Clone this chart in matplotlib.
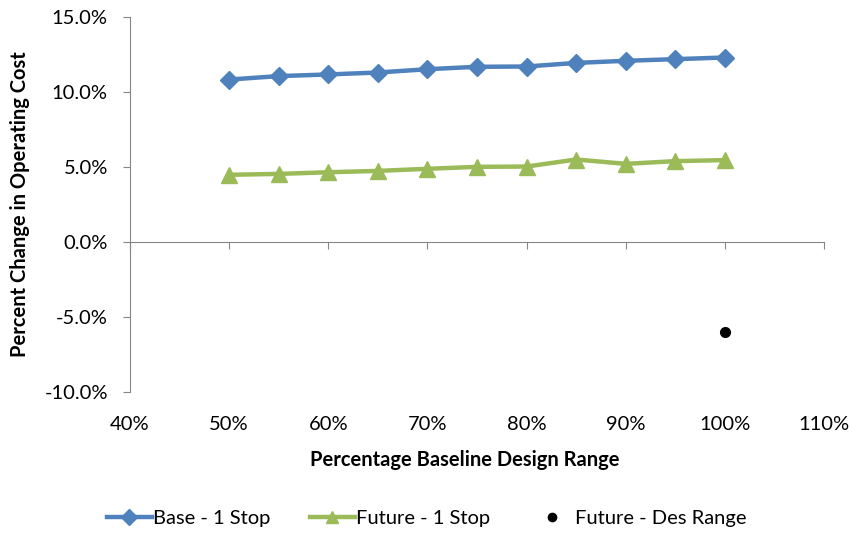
import matplotlib
matplotlib.use('Agg')
import matplotlib.pyplot as plt
from matplotlib.ticker import FuncFormatter

plt.rcParams['font.family'] = ['Lato', 'DejaVu Sans']

# data
range_pct = [0.50, 0.55, 0.60, 0.65, 0.70, 0.75, 0.80, 0.85, 0.90, 0.95, 1.00]
base_1stop = [10.83, 11.06, 11.17, 11.30, 11.52, 11.68, 11.70, 11.94, 12.08, 12.19, 12.30]
future_1stop = [4.48, 4.54, 4.65, 4.74, 4.88, 5.01, 5.03, 5.50, 5.21, 5.39, 5.46]
des_range_x = [1.00]
des_range_y = [-6.0]

x_ticks = [0.4, 0.5, 0.6, 0.7, 0.8, 0.9, 1.0, 1.1]
y_ticks = [-10, -5, 0, 5, 10, 15]

fig = plt.figure(figsize=(8.54, 5.33), dpi=100)
ax = fig.add_axes([130/854, 1 - 392/533, 694/854, 375/533])

ax.plot(range_pct, base_1stop, color='#4F81BD', lw=3.2, marker='D', ms=9,
        label='Base - 1 Stop')
ax.plot(range_pct, future_1stop, color='#9BBB59', lw=3.2, marker='^', ms=11,
        label='Future - 1 Stop')
ax.plot(des_range_x, des_range_y, ls='none', color='black', marker='o', ms=7,
        label='Future - Des Range')

ax.set_xlim(0.4, 1.1)
ax.set_ylim(-10, 15)

axis_grey = '#868686'
for s in ['top', 'right']:
    ax.spines[s].set_visible(False)
ax.spines['left'].set_color(axis_grey)
ax.spines['bottom'].set_color(axis_grey)
ax.spines['bottom'].set_position(('data', 0))

ax.set_yticks(y_ticks)
ax.yaxis.set_major_formatter(FuncFormatter(lambda v, p: '%.1f%%' % v))
ax.tick_params(axis='y', direction='out', length=5, color=axis_grey,
               labelsize=14.5, pad=11)

# ticks on the zero line, labels at the bottom of the plot
ax.set_xticks(x_ticks)
ax.tick_params(axis='x', direction='out', length=5, color=axis_grey,
               labelbottom=False)
sec = ax.secondary_xaxis(0.0)
sec.set_xticks(x_ticks)
sec.xaxis.set_major_formatter(FuncFormatter(lambda v, p: '%d%%' % round(v * 100)))
sec.spines['bottom'].set_visible(False)
sec.tick_params(axis='x', length=0, labelsize=14.5, pad=17)
sec.set_xlabel('Percentage Baseline Design Range', fontsize=14.5,
               fontweight='bold')
sec.xaxis.set_label_coords(0.482, -0.155, transform=ax.transAxes)

ax.set_ylabel('Percent Change in Operating Cost', fontsize=14.5,
              fontweight='bold', labelpad=10)

fig.legend(loc='center', bbox_to_anchor=(0.5, 1 - 518/533), ncol=3,
           frameon=False, fontsize=14.5, handlelength=2.2, markerscale=0.85,
           handletextpad=0.05, columnspacing=2.0)

fig.savefig('out.png', dpi=100)
